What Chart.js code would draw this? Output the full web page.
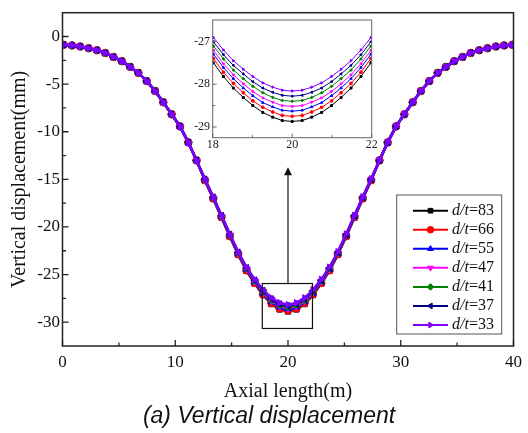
<!DOCTYPE html>
<html><head><meta charset="utf-8">
<script src="https://cdn.jsdelivr.net/npm/chart.js@4/dist/chart.umd.min.js"></script>
<style>
html,body{margin:0;padding:0;background:#fff;}
#wrap{position:relative;width:528px;height:433px;overflow:hidden;}
#main{position:absolute;left:0;top:0;}
#inset{position:absolute;left:180px;top:10px;}
</style></head><body>
<div id="wrap"><canvas id="main" width="528" height="433"></canvas><canvas id="inset" width="200" height="150"></canvas></div>
<script>
// ---------- data ----------
const seriesNames = ['83','66','55','47','41','37','33'];
const seriesColors = ['#000000','#ff0000','#0000ff','#ff00ff','#008000','#000080','#8000ff'];
const pointStyles = ['rect','circle','triangle','triangle','rectRot','triangle','triangle'];
const pointRotations = [0,0,0,180,0,270,90];

const axialLength = [0.10,0.84,1.57,2.31,3.05,3.79,4.52,5.26,6.00,6.73,7.47,8.21,8.94,9.68,10.42,11.16,11.89,12.63,13.37,14.10,14.84,15.58,16.32,17.05,17.79,18.53,19.26,20.00,20.74,21.47,22.21,22.95,23.68,24.42,25.16,25.90,26.63,27.37,28.11,28.84,29.58,30.32,31.06,31.79,32.53,33.27,34.00,34.74,35.48,36.21,36.95,37.69,38.43,39.16,39.90];

const disp83 = [-0.87,-0.94,-1.05,-1.23,-1.44,-1.73,-2.15,-2.59,-3.19,-3.82,-4.68,-5.72,-6.90,-8.17,-9.44,-11.12,-13.01,-15.13,-17.04,-19.00,-21.01,-22.92,-24.61,-25.95,-27.15,-28.09,-28.66,-28.87,-28.66,-28.09,-27.15,-25.95,-24.61,-22.92,-21.01,-19.00,-17.04,-15.13,-13.01,-11.12,-9.44,-8.17,-6.90,-5.72,-4.68,-3.82,-3.19,-2.59,-2.15,-1.73,-1.44,-1.23,-1.05,-0.94,-0.87];
const disp66 = [-0.87,-0.94,-1.05,-1.23,-1.44,-1.73,-2.15,-2.59,-3.19,-3.82,-4.68,-5.72,-6.90,-8.17,-9.44,-11.12,-13.01,-15.10,-17.01,-18.96,-20.97,-22.87,-24.55,-25.88,-27.06,-27.98,-28.55,-28.75,-28.55,-27.98,-27.06,-25.88,-24.55,-22.87,-20.97,-18.96,-17.01,-15.10,-13.01,-11.12,-9.44,-8.17,-6.90,-5.72,-4.68,-3.82,-3.19,-2.59,-2.15,-1.73,-1.44,-1.23,-1.05,-0.94,-0.87];
const disp55 = [-0.87,-0.94,-1.05,-1.23,-1.44,-1.73,-2.15,-2.59,-3.19,-3.82,-4.68,-5.72,-6.90,-8.17,-9.44,-11.12,-13.01,-15.07,-16.97,-18.92,-20.92,-22.81,-24.48,-25.80,-26.97,-27.88,-28.43,-28.63,-28.43,-27.88,-26.97,-25.80,-24.48,-22.81,-20.92,-18.92,-16.97,-15.07,-13.01,-11.12,-9.44,-8.17,-6.90,-5.72,-4.68,-3.82,-3.19,-2.59,-2.15,-1.73,-1.44,-1.23,-1.05,-0.94,-0.87];
const disp47 = [-0.87,-0.94,-1.05,-1.23,-1.44,-1.73,-2.15,-2.59,-3.19,-3.82,-4.68,-5.72,-6.90,-8.17,-9.44,-11.12,-13.01,-15.05,-16.94,-18.89,-20.88,-22.76,-24.42,-25.73,-26.88,-27.77,-28.32,-28.52,-28.32,-27.77,-26.88,-25.73,-24.42,-22.76,-20.88,-18.89,-16.94,-15.05,-13.01,-11.12,-9.44,-8.17,-6.90,-5.72,-4.68,-3.82,-3.19,-2.59,-2.15,-1.73,-1.44,-1.23,-1.05,-0.94,-0.87];
const disp41 = [-0.87,-0.94,-1.05,-1.23,-1.44,-1.73,-2.15,-2.59,-3.19,-3.82,-4.68,-5.72,-6.90,-8.17,-9.44,-11.12,-13.01,-15.02,-16.91,-18.85,-20.83,-22.71,-24.36,-25.65,-26.78,-27.66,-28.20,-28.40,-28.20,-27.66,-26.78,-25.65,-24.36,-22.71,-20.83,-18.85,-16.91,-15.02,-13.01,-11.12,-9.44,-8.17,-6.90,-5.72,-4.68,-3.82,-3.19,-2.59,-2.15,-1.73,-1.44,-1.23,-1.05,-0.94,-0.87];
const disp37 = [-0.87,-0.94,-1.05,-1.23,-1.44,-1.73,-2.15,-2.59,-3.19,-3.82,-4.68,-5.72,-6.90,-8.17,-9.44,-11.12,-13.01,-14.99,-16.87,-18.81,-20.79,-22.65,-24.29,-25.58,-26.69,-27.56,-28.09,-28.28,-28.09,-27.56,-26.69,-25.58,-24.29,-22.65,-20.79,-18.81,-16.87,-14.99,-13.01,-11.12,-9.44,-8.17,-6.90,-5.72,-4.68,-3.82,-3.19,-2.59,-2.15,-1.73,-1.44,-1.23,-1.05,-0.94,-0.87];
const disp33 = [-0.87,-0.94,-1.05,-1.23,-1.44,-1.73,-2.15,-2.59,-3.19,-3.82,-4.68,-5.72,-6.90,-8.17,-9.44,-11.12,-13.01,-14.96,-16.84,-18.77,-20.74,-22.60,-24.23,-25.50,-26.60,-27.45,-27.97,-28.16,-27.97,-27.45,-26.60,-25.50,-24.23,-22.60,-20.74,-18.77,-16.84,-14.96,-13.01,-11.12,-9.44,-8.17,-6.90,-5.72,-4.68,-3.82,-3.19,-2.59,-2.15,-1.73,-1.44,-1.23,-1.05,-0.94,-0.87];

// inset (zoom 18–22 m)
const insetLength = [17.78,18.02,18.27,18.52,18.77,19.01,19.26,19.51,19.75,20.00,20.25,20.49,20.74,20.99,21.23,21.48,21.73,21.98,22.22];
const inset83 = [-27.15,-27.50,-27.82,-28.09,-28.31,-28.50,-28.66,-28.77,-28.85,-28.87,-28.85,-28.77,-28.66,-28.50,-28.31,-28.09,-27.82,-27.50,-27.15];
const inset66 = [-27.06,-27.40,-27.72,-27.98,-28.20,-28.39,-28.54,-28.65,-28.73,-28.75,-28.73,-28.65,-28.54,-28.39,-28.20,-27.98,-27.72,-27.40,-27.06];
const inset55 = [-26.96,-27.30,-27.61,-27.87,-28.09,-28.27,-28.43,-28.53,-28.61,-28.63,-28.61,-28.53,-28.43,-28.27,-28.09,-27.87,-27.61,-27.30,-26.96];
const inset47 = [-26.88,-27.21,-27.52,-27.78,-27.99,-28.17,-28.32,-28.42,-28.50,-28.52,-28.50,-28.42,-28.32,-28.17,-27.99,-27.78,-27.52,-27.21,-26.88];
const inset41 = [-26.78,-27.11,-27.41,-27.67,-27.87,-28.05,-28.20,-28.31,-28.38,-28.40,-28.38,-28.31,-28.20,-28.05,-27.87,-27.67,-27.41,-27.11,-26.78];
const inset37 = [-26.69,-27.01,-27.31,-27.56,-27.76,-27.94,-28.09,-28.19,-28.26,-28.28,-28.26,-28.19,-28.09,-27.94,-27.76,-27.56,-27.31,-27.01,-26.69];
const inset33 = [-26.60,-26.91,-27.20,-27.45,-27.65,-27.82,-27.97,-28.07,-28.14,-28.16,-28.14,-28.07,-27.97,-27.82,-27.65,-27.45,-27.20,-26.91,-26.60];

// ticks
const xTicks = [0,10,20,30,40];
const xMinorTicks = [5,15,25,35];
const yTicks = [0,-5,-10,-15,-20,-25,-30];
const yMinorTicks = [-2.5,-7.5,-12.5,-17.5,-22.5,-27.5];
const insetXTicks = [18,20,22];
const insetXMinorTicks = [19,21];
const insetYTicks = [-27,-28,-29];
const insetYMinorTicks = [-27.5,-28.5];
// zoom window marked on main plot (data units)
const zoomWindow = {x0:17.72, x1:22.17, y0:-30.66, y1:-25.94, arrowTo:-13.74};
const captionText = '(a) Vertical displacement';

const mainSeries = [disp83,disp66,disp55,disp47,disp41,disp37,disp33];
const insetSeries = [inset83,inset66,inset55,inset47,inset41,inset37,inset33];

// ---------- helpers ----------
Chart.defaults.font.family = "'Liberation Serif','Times New Roman',serif";
Chart.defaults.color = '#111';

function makeDatasets(xs, series, lw, pr){
  return series.map((ys,k)=>({
    label: 'd/t=' + seriesNames[k],
    data: xs.map((x,i)=>({x:x, y:ys[i]})),
    borderColor: seriesColors[k],
    backgroundColor: seriesColors[k],
    pointBackgroundColor: seriesColors[k],
    pointBorderColor: seriesColors[k],
    borderWidth: lw,
    pointRadius: pr,
    pointBorderWidth: 1,
    pointStyle: pointStyles[k],
    rotation: pointRotations[k],
    tension: 0,
    order: series.length - 1 - k
  }));
}

function tickFramePlugin(id){
  return {
    id: id,
    afterDraw(chart, args, o){
      const {ctx, chartArea:a, scales:{x,y}} = chart;
      ctx.save();
      ctx.strokeStyle = o.color; ctx.lineWidth = o.width;
      ctx.strokeRect(a.left, a.top, a.right-a.left, a.bottom-a.top);
      ctx.beginPath();
      o.xMajor.forEach(v=>{const p=x.getPixelForValue(v); ctx.moveTo(p,a.bottom); ctx.lineTo(p,a.bottom-o.major);});
      o.xMinor.forEach(v=>{const p=x.getPixelForValue(v); ctx.moveTo(p,a.bottom); ctx.lineTo(p,a.bottom-o.minor);});
      o.yMajor.forEach(v=>{const p=y.getPixelForValue(v); ctx.moveTo(a.left,p); ctx.lineTo(a.left+o.major,p);});
      o.yMinor.forEach(v=>{const p=y.getPixelForValue(v); ctx.moveTo(a.left,p); ctx.lineTo(a.left+o.minor,p);});
      ctx.lineWidth = o.tickWidth;
      ctx.stroke();
      ctx.restore();
    }
  };
}

const zoomMarkPlugin = {
  id:'zoomMark',
  afterDatasetsDraw(chart){
    const {ctx, scales:{x,y}} = chart;
    const l=x.getPixelForValue(zoomWindow.x0), r=x.getPixelForValue(zoomWindow.x1);
    const t=y.getPixelForValue(zoomWindow.y1), b=y.getPixelForValue(zoomWindow.y0);
    const cx = x.getPixelForValue(20), tip = y.getPixelForValue(zoomWindow.arrowTo);
    ctx.save();
    ctx.strokeStyle='#111'; ctx.lineWidth=1.2;
    ctx.strokeRect(l,t,r-l,b-t);
    ctx.beginPath(); ctx.moveTo(cx,t); ctx.lineTo(cx,tip+6); ctx.stroke();
    ctx.fillStyle='#111';
    ctx.beginPath(); ctx.moveTo(cx,tip); ctx.lineTo(cx-4,tip+8); ctx.lineTo(cx+4,tip+8); ctx.closePath(); ctx.fill();
    ctx.restore();
  }
};

const legendPlugin = {
  id:'dtLegend',
  afterDraw(chart){
    const {ctx, chartArea:a} = chart;
    const right = a.right - 11.8, bottom = a.bottom - 12;
    const w = 105, h = 139, left = right - w, top = bottom - h;
    ctx.save();
    ctx.fillStyle='#fff'; ctx.fillRect(left,top,w,h);
    ctx.strokeStyle='#555'; ctx.lineWidth=1; ctx.strokeRect(left,top,w,h);
    chart.data.datasets.forEach((ds,k)=>{
      const cy = top + 15.7 + k*19.05;
      ctx.strokeStyle = ds.borderColor; ctx.lineWidth = 2;
      ctx.beginPath(); ctx.moveTo(left+16.3,cy); ctx.lineTo(left+51.3,cy); ctx.stroke();
      ctx.fillStyle = ds.borderColor; ctx.lineWidth = 1;
      Chart.helpers.drawPoint(ctx,{pointStyle:ds.pointStyle, rotation:ds.rotation, radius:3.3, borderWidth:1}, left+33.8, cy);
      ctx.fillStyle='#111'; ctx.textBaseline='middle'; ctx.textAlign='left';
      ctx.font = "italic 16px 'Liberation Serif','Times New Roman',serif";
      const tx = left + 55.3;
      ctx.fillText('d/t', tx, cy);
      const wd = ctx.measureText('d/t').width;
      ctx.font = "16px 'Liberation Serif','Times New Roman',serif";
      ctx.fillText('=' + seriesNames[k], tx + wd, cy);
    });
    ctx.restore();
  }
};

const captionPlugin = {
  id:'caption',
  afterDraw(chart){
    const {ctx} = chart;
    ctx.save();
    ctx.fillStyle='#111'; ctx.textAlign='center'; ctx.textBaseline='middle';
    ctx.font = "italic 23px 'Liberation Sans',Arial,sans-serif";
    ctx.fillText(captionText, 269, 417);
    ctx.restore();
  }
};

// ---------- main chart ----------
new Chart(document.getElementById('main'), {
  type:'line',
  data:{ datasets: makeDatasets(axialLength, mainSeries, 2.5, 3.8) },
  options:{
    responsive:false, animation:false, events:[],
    layout:{ padding:{ top:12, right:9.5, left:0, bottom:29.4 } },
    plugins:{
      legend:{display:false}, tooltip:{enabled:false},
      mainFrame:{ color:'#222', width:1.5, tickWidth:1.3, major:6, minor:3.5,
        xMajor:xTicks, xMinor:xMinorTicks, yMajor:yTicks, yMinor:yMinorTicks }
    },
    scales:{
      x:{ type:'linear', min:0, max:40,
        afterBuildTicks:s=>{ s.ticks = xTicks.map(v=>({value:v})); },
        afterFit:s=>{ s.height = 57.6; },
        grid:{display:false, drawTicks:false}, border:{display:false},
        ticks:{ font:{size:17}, padding:6, color:'#111', maxRotation:0 },
        title:{ display:true, text:'Axial length(m)', font:{size:20, lineHeight:1.2}, color:'#111', padding:{top:0,bottom:0} } },
      y:{ type:'linear', min:-32.5, max:2.5,
        afterBuildTicks:s=>{ s.ticks = yTicks.map(v=>({value:v})); },
        afterFit:s=>{ s.width = 62.5; },
        grid:{display:false, drawTicks:false}, border:{display:false},
        ticks:{ font:{size:17}, padding:2.5, color:'#111' },
        title:{ display:true, text:'Vertical displacement(mm)', font:{size:20, lineHeight:1.2}, color:'#111', padding:{top:8,bottom:0} } }
    }
  },
  plugins:[tickFramePlugin('mainFrame'), zoomMarkPlugin, legendPlugin, captionPlugin]
});

// ---------- inset chart ----------
new Chart(document.getElementById('inset'), {
  type:'line',
  data:{ datasets: makeDatasets(insetLength, insetSeries, 1, 1.4) },
  options:{
    responsive:false, animation:false, events:[],
    layout:{ padding:{ top:10, right:8.3, left:0, bottom:0 } },
    plugins:{
      legend:{display:false}, tooltip:{enabled:false},
      insetFrame:{ color:'#666', width:1, tickWidth:1, major:4, minor:2.5,
        xMajor:insetXTicks, xMinor:insetXMinorTicks, yMajor:insetYTicks, yMinor:insetYMinorTicks }
    },
    scales:{
      x:{ type:'linear', min:18, max:22,
        afterBuildTicks:s=>{ s.ticks = insetXTicks.map(v=>({value:v})); },
        afterFit:s=>{ s.height = 22.3; },
        grid:{display:false, drawTicks:false}, border:{display:false},
        ticks:{ font:{size:12}, padding:0, color:'#222', maxRotation:0 } },
      y:{ type:'linear', min:-29.25, max:-26.5,
        afterBuildTicks:s=>{ s.ticks = insetYTicks.map(v=>({value:v})); },
        afterFit:s=>{ s.width = 32.7; },
        grid:{display:false, drawTicks:false}, border:{display:false},
        ticks:{ font:{size:12}, padding:2.7, color:'#222' } }
    }
  },
  plugins:[tickFramePlugin('insetFrame')]
});
</script>
</body></html>
